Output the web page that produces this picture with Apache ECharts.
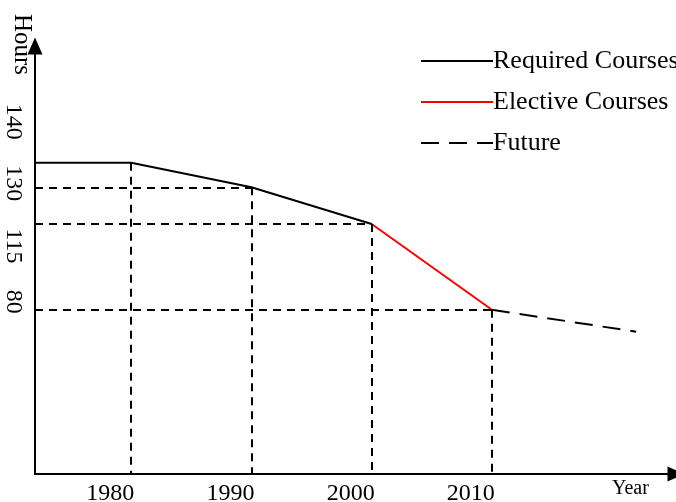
<!DOCTYPE html>
<html>
<head>
<meta charset="utf-8">
<title>Hours</title>
<script src="https://cdn.jsdelivr.net/npm/echarts@6/dist/echarts.min.js"></script>
<style>
  html, body { margin: 0; padding: 0; background: #fff; }
  #chart { width: 676px; height: 502px; }
</style>
</head>
<body>
<div id="chart"></div>
<script>
// data
const years = [1980, 1990, 2000, 2010]
const yearLabels = ['1980', '1990', '2000', '2010']
const hourTicks = [140, 130, 115, 80]
const hourLabels = ['140', '130', '115', '80']

const requiredYears = [1972, 1980, 1990, 2000]
const requiredHours = [140, 140, 130, 115]
const electiveYears = [2000, 2010]
const electiveHours = [115, 80]
const futureYears = [2010, 2022]
const futureHours = [80, 71]

// axis ranges / layout
const xMin = 1972
const xMax = 2024.9
const yMin = 12.9
const yMax = 187.7
const grid = { left: 35, right: 5, top: 46, bottom: 28 }
const FONT = 'Liberation Serif, Times New Roman, serif'

// y labels sit a bit off their lines in the original (px, up is positive)
const yLabelShift = [41, 4, -22, 8]
const pxPerHour = (502 - grid.top - grid.bottom) / (yMax - yMin)
const yLabelAt = hourTicks.map((v, i) => v + yLabelShift[i] / pxPerHour)
const yLabelText = {}
yLabelAt.forEach((v, i) => { yLabelText[v.toFixed(4)] = hourLabels[i] })

const zip = (xs, ys) => xs.map((x, i) => [x, ys[i]])

// dashed guide lines: down from each point, and across from the y axis
const guides = []
years.forEach((y, i) => {
  guides.push([{ coord: [y, hourTicks[i]] }, { coord: [y, yMin] }])
  if (i > 0) guides.push([{ coord: [xMin, hourTicks[i]] }, { coord: [y, hourTicks[i]] }])
})

const chart = echarts.init(document.getElementById('chart'), null, { renderer: 'canvas' })

chart.setOption({
  animation: false,
  backgroundColor: '#fff',
  grid: Object.assign({ outerBoundsMode: 'none', containLabel: false }, grid),
  legend: {
    orient: 'vertical',
    left: 420,
    top: 41,
    padding: 0,
    itemWidth: 72,
    itemHeight: 20,
    itemGap: 1,
    data: ['Required Courses', 'Elective Courses', 'Future'],
    itemStyle: { opacity: 0, borderWidth: 0 },
    textStyle: { fontFamily: FONT, fontSize: 26, color: '#000', lineHeight: 18, padding: [0, 0, 22, -5] }
  },
  xAxis: {
    type: 'value',
    min: xMin,
    max: xMax,
    name: 'Year',
    nameLocation: 'end',
    nameGap: -59,
    nameMoveOverlap: false,
    nameTextStyle: { fontFamily: FONT, fontSize: 20, color: '#000', verticalAlign: 'top', lineHeight: 30 },
    splitLine: { show: false },
    axisTick: { show: false },
    axisLine: {
      symbol: ['none', 'triangle'],
      symbolSize: [15, 17],
      symbolOffset: [0, 5],
      lineStyle: { color: '#000', width: 2 }
    },
    axisLabel: {
      customValues: years,
      formatter: (v) => yearLabels[years.indexOf(v)],
      fontFamily: FONT,
      fontSize: 24,
      color: '#000',
      margin: 8,
      padding: [0, 42, 0, 0]
    }
  },
  yAxis: {
    type: 'value',
    min: yMin,
    max: yMax,
    name: 'Hours',
    nameLocation: 'end',
    nameRotate: -90,
    nameGap: -29,
    nameMoveOverlap: false,
    nameTextStyle: { fontFamily: FONT, fontSize: 25, color: '#000', verticalAlign: 'top', lineHeight: 26 },
    splitLine: { show: false },
    axisTick: { show: false },
    axisLine: {
      symbol: ['none', 'triangle'],
      symbolSize: [15, 17],
      symbolOffset: [0, 0],
      lineStyle: { color: '#000', width: 2 }
    },
    axisLabel: {
      customValues: yLabelAt,
      formatter: (v) => yLabelText[v.toFixed(4)] || '',
      rotate: -90,
      fontFamily: FONT,
      fontSize: 24,
      color: '#000',
      margin: 10
    }
  },
  series: [
    {
      name: 'guides',
      type: 'line',
      data: [],
      silent: true,
      markLine: {
        silent: true,
        symbol: ['none', 'none'],
        label: { show: false },
        lineStyle: { color: '#000', type: [8, 6], width: 2 },
        emphasis: { disabled: true },
        data: guides
      }
    },
    {
      name: 'Required Courses',
      type: 'line',
      symbol: 'none',
      data: zip(requiredYears, requiredHours),
      lineStyle: { color: '#000', width: 2 },
      itemStyle: { color: '#000' }
    },
    {
      name: 'Elective Courses',
      type: 'line',
      symbol: 'none',
      data: zip(electiveYears, electiveHours),
      lineStyle: { color: '#ff0000', width: 2 },
      itemStyle: { color: '#ff0000' }
    },
    {
      name: 'Future',
      type: 'line',
      symbol: 'none',
      data: zip(futureYears, futureHours),
      lineStyle: { color: '#000', width: 2, type: [18, 10] },
      itemStyle: { color: '#000' }
    }
  ]
})
</script>
</body>
</html>
